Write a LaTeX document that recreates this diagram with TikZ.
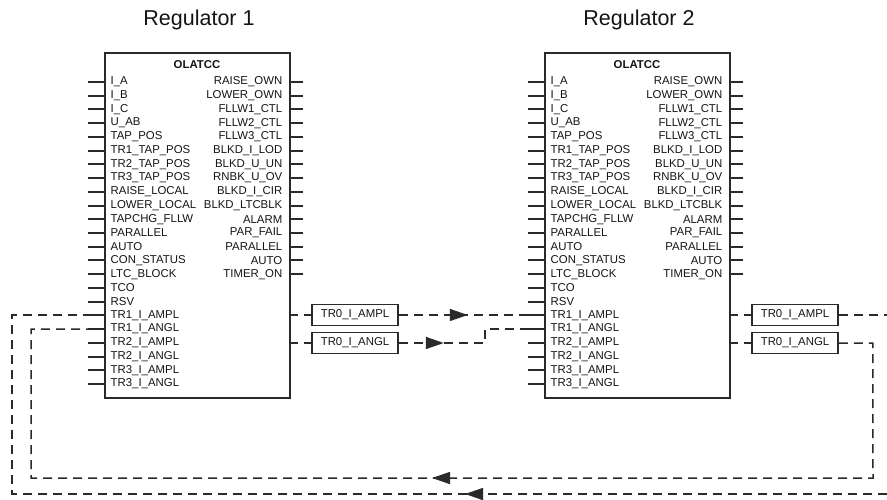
\documentclass[tikz,border=0pt]{standalone}
\usepackage{fontspec}
\setmainfont{Liberation Sans}
\usetikzlibrary{arrows.meta,decorations.markings}
\definecolor{linec}{HTML}{2A2A2A}
\definecolor{txtc}{HTML}{141414}
\tikzset{
  blk/.style={draw=linec, line width=1.6pt, minimum width=185pt, minimum height=345pt, anchor=north west, inner sep=0pt},
  stub/.style={draw=linec, line width=1.6pt},
  dsh/.style={draw=linec, line width=1.5pt, dash pattern=on 9pt off 6pt},
  lbl/.style={font=\fontsize{11.4}{11.4}\selectfont, inner sep=0pt, text=txtc},
  ttl/.style={font=\fontsize{21.5}{21.5}\selectfont, inner sep=0pt, text=txtc},
  hdr/.style={font=\fontsize{11.4}{11.4}\selectfont\bfseries, inner sep=0pt, text=txtc},
  tbox/.style={draw=linec, line width=1.5pt, minimum width=86pt, minimum height=21pt, inner sep=0pt, font=\fontsize{11.4}{11.4}\selectfont, text=txtc},
  arrowat/.style={postaction={decorate, decoration={markings, mark=at position #1 with {\arrow{Triangle[length=18pt,width=12pt]}}}}},
}
\begin{document}
\begin{tikzpicture}[x=1pt,y=-1pt]
\useasboundingbox (0,0) rectangle (887,499);
\foreach \r/\dx in {1/0, 2/440}{
  \node[blk] (r\r) at (\dx+104,52) {};
  \node[ttl] (r\r-title) at (\dx+199,20) {Regulator \r};
  \node[hdr] (r\r-name) at (\dx+197,65) {OLATCC};
  \foreach \nm [count=\i from 0] in {I\_A, I\_B, I\_C, U\_AB, TAP\_POS, TR1\_TAP\_POS, TR2\_TAP\_POS, TR3\_TAP\_POS, RAISE\_LOCAL, LOWER\_LOCAL, TAPCHG\_FLLW, PARALLEL, AUTO, CON\_STATUS, LTC\_BLOCK, TCO, RSV, TR1\_I\_AMPL, TR1\_I\_ANGL, TR2\_I\_AMPL, TR2\_I\_ANGL, TR3\_I\_AMPL, TR3\_I\_ANGL}{
    \pgfmathsetmacro\yy{round(82+13.73*\i)}
    \coordinate (r\r-ip\i) at (\dx+88, \yy);
    \coordinate (r\r-ie\i) at (\dx+104, \yy);
    \draw[stub] (r\r-ip\i) -- (r\r-ie\i);
    \node[lbl, anchor=west] (r\r-il\i) at (\dx+110.5, 82+13.73*\i) {\nm};
  }
  \foreach \nm [count=\i from 0] in {RAISE\_OWN, LOWER\_OWN, FLLW1\_CTL, FLLW2\_CTL, FLLW3\_CTL, BLKD\_I\_LOD, BLKD\_U\_UN, RNBK\_U\_OV, BLKD\_I\_CIR, BLKD\_LTCBLK, ALARM, PAR\_FAIL, PARALLEL, AUTO, TIMER\_ON}{
    \pgfmathsetmacro\yy{round(82+13.73*\i)}
    \coordinate (r\r-oe\i) at (\dx+289, \yy);
    \coordinate (r\r-op\i) at (\dx+303, \yy);
    \draw[stub] (r\r-oe\i) -- (r\r-op\i);
    \node[lbl, anchor=east] (r\r-ol\i) at (\dx+282.5, 82+13.73*\i) {\nm};
  }
  \coordinate (r\r-oa) at (\dx+289, 315);
  \coordinate (r\r-ob) at (\dx+289, 343);
  \node[tbox] (r\r-tb1) at (\dx+355, 315) {TR0\_I\_AMPL};
  \node[tbox] (r\r-tb2) at (\dx+355, 343) {TR0\_I\_ANGL};
  \draw[dsh] (r\r-oa) -- (r\r-tb1.west);
  \draw[dsh] (r\r-ob) -- (r\r-tb2.west);
}
% regulator 1 -> regulator 2
\draw[dsh, arrowat=69pt] (r1-tb1.east) -- (r2-ip17);
\draw[dsh, arrowat=45pt] (r1-tb2.east) -- ++(86,0) |- (r2-ip18);
% regulator 2 outputs
\coordinate (offA) at (887, 315);
\coordinate (offB) at (887, 494);
\draw[dsh] (r2-tb1.east) -- (offA);
\draw[dsh, arrowat=610pt] (r2-tb2.east) -- ++(34,0) -- (873,478) -- (31,478) |- (r1-ip18);
\draw[dsh, arrowat=422pt] (offB) -- (12,494) |- (r1-ip17);
\end{tikzpicture}
\end{document}
